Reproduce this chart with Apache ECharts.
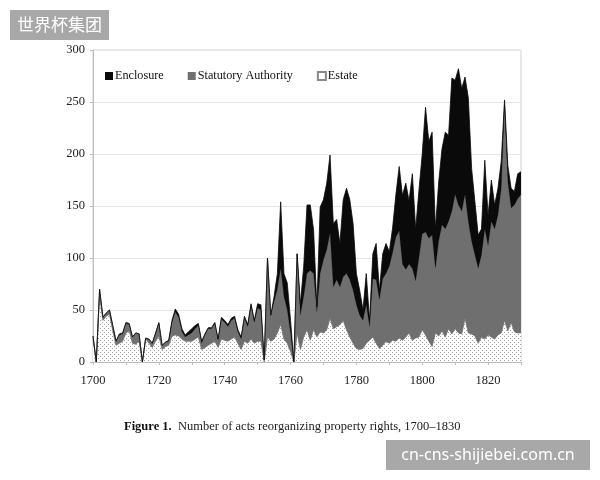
<!DOCTYPE html>
<html>
<head>
<meta charset="utf-8">
<script src="https://cdn.jsdelivr.net/npm/echarts@6/dist/echarts.min.js"></script>
<style>
  html, body { margin: 0; padding: 0; background: #fff; }
  #chart { width: 600px; height: 480px; }
</style>
</head>
<body>
<div id="chart"></div>
<script>
// years 1700 - 1830
const years = [];
for (let y = 1700; y <= 1830; y++) years.push(String(y));

// 估计值
const estate = [
  22, 0, 65, 40, 44, 46, 30, 16, 18, 20,
  28, 30, 18, 17, 20, 0, 22, 18, 14, 20,
  25, 12, 15, 16, 25, 26, 25, 22, 20, 20,
  20, 22, 24, 12, 14, 16, 18, 20, 14, 22,
  21, 20, 22, 24, 18, 12, 20, 18, 22, 18,
  20, 20, 0, 24, 20, 22, 28, 36, 22, 18,
  10, 0, 28, 12, 24, 31, 21, 31, 24, 29,
  28, 31, 42, 32, 34, 36, 40, 31, 24, 18,
  13, 12, 13, 18, 21, 24, 18, 13, 16, 20,
  18, 21, 20, 23, 21, 24, 28, 21, 23, 24,
  31, 26, 20, 15, 28, 25, 30, 24, 32, 27,
  32, 28, 27, 42, 28, 27, 25, 18, 24, 22,
  26, 24, 22, 26, 28, 40, 30, 38, 29, 28,
  28
];

const statutory = [
  3, 0, 5, 3, 3, 4, 5, 4, 8, 7,
  9, 6, 6, 11, 7, 0, 1, 4, 4, 7,
  12, 4, 4, 4, 13, 22, 18, 7, 4, 6,
  8, 10, 11, 6, 12, 16, 14, 17, 7, 19,
  17, 14, 18, 18, 11, 10, 22, 16, 32, 20,
  32, 30, 2, 76, 25, 36, 42, 54, 41, 32,
  18, 0, 76, 33, 39, 54, 67, 54, 24, 56,
  70, 77, 82, 40, 45, 36, 42, 54, 55, 51,
  42, 33, 27, 37, 13, 56, 61, 47, 64, 65,
  74, 84, 100, 103, 73, 65, 66, 69, 55, 76,
  92, 99, 99, 107, 62, 91, 102, 104, 103, 118,
  129, 123, 118, 119, 107, 89, 78, 72, 79, 106,
  86, 111, 106, 115, 139, 207, 143, 110, 122, 129,
  133
];

const enclosure = [
  0, 0, 0, 0, 0, 0, 0, 0, 1, 1,
  1, 1, 0, 0, 0, 0, 0, 0, 0, 1,
  1, 0, 0, 1, 2, 3, 3, 3, 2, 3,
  4, 3, 2, 2, 1, 1, 1, 1, 1, 2,
  2, 2, 2, 2, 2, 2, 2, 2, 2, 2,
  4, 5, 0, 0, 0, 5, 15, 64, 22, 26,
  12, 0, 0, 11, 29, 66, 63, 42, 5, 64,
  58, 64, 75, 61, 58, 42, 74, 82, 77, 64,
  30, 24, 10, 30, 6, 24, 35, 9, 24, 29,
  14, 24, 41, 62, 66, 83, 61, 91, 50, 65,
  77, 120, 93, 99, 38, 57, 73, 93, 83, 128,
  110, 131, 118, 113, 119, 70, 51, 32, 25, 66,
  29, 40, 23, 26, 26, 5, 16, 19, 13, 24,
  22
];

const yTicks = [0, 50, 100, 150, 200, 250, 300];

// dotted fill for Estate
const dots = document.createElement('canvas');
dots.width = 4;
dots.height = 4;
const dctx = dots.getContext('2d');
dctx.fillStyle = '#fff';
dctx.fillRect(0, 0, 4, 4);
dctx.fillStyle = '#a4a4a4';
dctx.fillRect(0, 0, 1, 1);
dctx.fillRect(2, 2, 1, 1);

const serif = '"Liberation Serif", "DejaVu Serif", serif';

const chart = echarts.init(document.getElementById('chart'));

chart.setOption({
  animation: false,
  backgroundColor: '#fff',
  grid: {
    left: 93, right: 79, top: 50, bottom: 118,
    show: true, borderColor: '#cfcfcf', borderWidth: 1
  },
  legend: {
    data: ['Enclosure', 'Statutory Authority', 'Estate'],
    left: 105, top: 70, padding: 0,
    icon: 'rect', itemWidth: 8, itemHeight: 8, itemGap: 24,
    textStyle: { fontFamily: serif, fontSize: 12.2, color: '#111', padding: [0, 0, 0, -3] }
  },
  xAxis: {
    type: 'category',
    data: years,
    boundaryGap: false,
    axisLine: { lineStyle: { color: '#bdbdbd' } },
    axisTick: {
      length: 3,
      lineStyle: { color: '#bdbdbd' },
      interval: (i, v) => Number(v) % 10 === 0
    },
    axisLabel: {
      interval: (i, v) => Number(v) % 20 === 0 && Number(v) < 1830,
      margin: 12,
      fontFamily: serif, fontSize: 12.5, color: '#222'
    },
    splitLine: { show: false }
  },
  yAxis: {
    type: 'value',
    min: yTicks[0], max: yTicks[yTicks.length - 1], interval: 50,
    axisLine: { show: true, lineStyle: { color: '#bdbdbd' } },
    axisTick: { show: true, length: 3, lineStyle: { color: '#bdbdbd' } },
    axisLabel: { margin: 8, fontFamily: serif, fontSize: 12.5, color: '#222' },
    splitLine: { lineStyle: { color: '#e6e6e6' } }
  },
  series: [
    {
      name: 'Estate', type: 'line', stack: 'acts', data: estate,
      showSymbol: false, symbol: 'none',
      lineStyle: { width: 1, color: '#8a8a8a' },
      itemStyle: { color: '#fff', borderColor: '#888', borderWidth: 1 },
      areaStyle: { color: { image: dots, repeat: 'repeat' }, opacity: 1 },
      z: 1
    },
    {
      name: 'Statutory Authority', type: 'line', stack: 'acts', data: statutory,
      showSymbol: false, symbol: 'none',
      lineStyle: { width: 1, color: '#5e5e5e' },
      itemStyle: { color: '#6f6f6f' },
      areaStyle: { color: '#6f6f6f', opacity: 1 },
      z: 2
    },
    {
      name: 'Enclosure', type: 'line', stack: 'acts', data: enclosure,
      showSymbol: false, symbol: 'none',
      lineStyle: { width: 0.8, color: '#0a0a0a' },
      itemStyle: { color: '#0a0a0a' },
      areaStyle: { color: '#0a0a0a', opacity: 1 },
      z: 3
    }
  ],
  graphic: [
    {
      type: 'text', left: 124, top: 420,
      style: {
        text: '{b|Figure 1.}  Number of acts reorganizing property rights, 1700\u20131830',
        fontFamily: serif, fontSize: 12.5, fill: '#222',
        rich: { b: { fontFamily: serif, fontSize: 12.5, fontWeight: 'bold', fill: '#111' } }
      }
    },
    {
      type: 'group', left: 10, top: 10,
      children: [
        { type: 'rect', shape: { x: 0, y: 0, width: 99, height: 30 }, style: { fill: '#a8a8a8' } },
        { type: 'text', x: 49.5, y: 15, style: {
          text: '世界杯集团', fill: '#fff', fontSize: 17,
          fontFamily: '"Noto Sans CJK SC", sans-serif', align: 'center', verticalAlign: 'middle' } }
      ]
    },
    {
      type: 'group', left: 386, top: 440,
      children: [
        { type: 'rect', shape: { x: 0, y: 0, width: 204, height: 30 }, style: { fill: '#a8a8a8' } },
        { type: 'text', x: 102, y: 15, style: {
          text: 'cn-cns-shijiebei.com.cn', fill: '#fff', fontSize: 16,
          fontFamily: '"Noto Sans", sans-serif', align: 'center', verticalAlign: 'middle' } }
      ]
    }
  ]
});
</script>
</body>
</html>
